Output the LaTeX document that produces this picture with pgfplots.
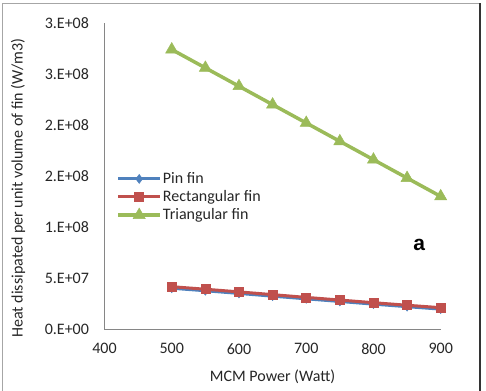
\documentclass[border=0pt]{standalone}
\usepackage{pgfplots}
\pgfplotsset{compat=1.18}
\usepackage{fontspec}
\setmainfont{Carlito}
\newfontfamily\labelfont{Liberation Sans}

\definecolor{pinblue}{HTML}{4F81BD}
\definecolor{rectred}{HTML}{C0504D}
\definecolor{trigreen}{HTML}{9BBB59}
\definecolor{axisgray}{HTML}{868686}

\begin{document}
\begin{tikzpicture}[x=1bp,y=1bp]
\begin{axis}[
  at={(0,0)}, anchor=south west,
  scale only axis,
  width=336.2bp, height=306bp,
  xmin=400, xmax=900, ymin=0, ymax=3e8,
  xtick={400,500,...,900},
  ytick={0,5e7,1e8,1.5e8,2e8,2.5e8,3e8},
  yticklabels={0.E+00,5.E+07,1.E+08,2.E+08,2.E+08,3.E+08,3.E+08},
  scaled y ticks=false,
  axis x line*=bottom, axis y line*=left,
  axis line style={axisgray, line width=0.9bp, -},
  major tick length=0pt,
  tick style={draw=none},
  /pgf/number format/assume math mode=true,
  /pgf/number format/set thousands separator={},
  every tick label/.append style={font=\fontsize{16bp}{19bp}\selectfont, text=black!85},
  yticklabel style={xshift=-12bp},
  xticklabel style={yshift=-11bp},
  xlabel={MCM Power (Watt)},
  ylabel={Heat dissipated per unit volume of fin (W/m3)},
  label style={font=\fontsize{16bp}{19bp}\selectfont, text=black!85},
  xlabel style={at={(axis description cs:0.5,-0.155)}, anchor=center},
  ylabel style={at={(axis description cs:-0.257,0.461)}, anchor=center, rotate=0},
  legend cell align=left,
  legend style={at={(axis description cs:0.035,0.515)}, anchor=north west,
    draw=none, fill=none, inner sep=0pt, row sep=3.5bp,
    font=\fontsize{16bp}{19bp}\selectfont,
    nodes={inner sep=1bp, text=black!85}},
  legend image code/.code={
    \draw[mark repeat=2, mark phase=2] plot coordinates {(0bp,0bp) (21bp,0bp) (42bp,0bp)};},
  clip=false,
]
% pin fin
\addplot[pinblue, line width=3bp, mark=diamond*, mark size=4.5bp,
  mark options={solid, fill=pinblue, draw=pinblue, line width=0.5bp}]
  coordinates {(500,4.00e7) (550,3.75e7) (600,3.49e7) (650,3.22e7) (700,2.96e7)
               (750,2.70e7) (800,2.44e7) (850,2.19e7) (900,1.95e7)};
% rectangular fin
\addplot[rectred, line width=3bp, mark=square*, mark size=4.5bp,
  mark options={solid, fill=rectred, draw=rectred, line width=0.5bp}]
  coordinates {(500,4.15e7) (550,3.90e7) (600,3.64e7) (650,3.37e7) (700,3.10e7)
               (750,2.84e7) (800,2.58e7) (850,2.33e7) (900,2.09e7)};
% triangular fin
\addplot[trigreen, line width=3.5bp, mark=triangle*, mark size=7bp,
  mark options={solid, fill=trigreen, draw=trigreen, line width=0.5bp}]
  coordinates {(500,2.74e8) (550,2.56e8) (600,2.38e8) (650,2.20e8) (700,2.02e8)
               (750,1.84e8) (800,1.66e8) (850,1.48e8) (900,1.30e8)};
\legend{Pin fin, Rectangular fin, Triangular fin}
\node[font=\labelfont\bfseries\fontsize{21bp}{24bp}\selectfont] at (axis cs:868,8.24e7) {a};
\end{axis}
% chart frame
\draw[gray!70, line width=1bp] (-101.5,-64) -- (-101.5,326) -- (375.5,326);
\draw[black!80, line width=1.3bp] (375.5,326) -- (375.5,-64);
\pgfresetboundingbox
\useasboundingbox (-104.5,-61) rectangle (381.5,329);
\end{tikzpicture}
\end{document}
